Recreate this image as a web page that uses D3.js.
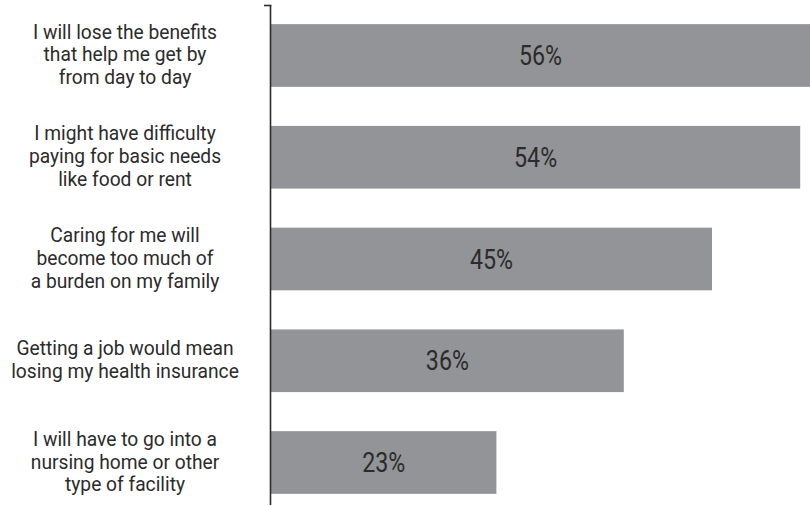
<!DOCTYPE html>
<html>
<head>
<meta charset="utf-8">
<script src="https://cdn.jsdelivr.net/npm/d3@7"></script>
<style>
  html, body { margin: 0; padding: 0; background: #fff; }
  svg { display: block; }
  text { font-family: "Roboto", sans-serif; fill: #2b2b2b; }
</style>
</head>
<body>
<svg id="chart" width="810" height="506"></svg>
<script>
// Survey concerns about working (share of respondents)
const categories = [
  ["I will lose the benefits", "that help me get by", "from day to day"],
  ["I might have difficulty", "paying for basic needs", "like food or rent"],
  ["Caring for me will", "become too much of", "a burden on my family"],
  ["Getting a job would mean", "losing my health insurance"],
  ["I will have to go into a", "nursing home or other", "type of facility"]
];
const values = [56, 54, 45, 36, 23];
const valueLabels = ["56%", "54%", "45%", "36%", "23%"];

const svg = d3.select("#chart");
const W = 810;
const plotLeft = 271, plotTop = 5, plotBottom = 505;
const labelCenter = 125;

const x = d3.scaleLinear().domain([0, 100]).range([plotLeft, plotLeft + 980]);
const y = d3.scaleBand()
  .domain(d3.range(values.length))
  .range([9, 509])
  .paddingInner(0.384)
  .paddingOuter(0.149);

// bars
svg.selectAll("rect.bar")
  .data(values)
  .join("rect")
  .attr("class", "bar")
  .attr("x", x(0))
  .attr("y", (d, i) => y(i))
  .attr("width", d => x(d) - x(0))
  .attr("height", y.bandwidth())
  .attr("fill", "#939497");

// value labels inside bars (condensed by a horizontal squeeze)
svg.selectAll("text.val")
  .data(values)
  .join("text")
  .attr("class", "val")
  .attr("transform", (d, i) => {
    const cx = (x(0) + Math.min(x(d), W)) / 2;
    const cy = y(i) + y.bandwidth() / 2;
    return `translate(${cx},${cy}) scale(0.86,1)`;
  })
  .attr("dy", "0.36em")
  .attr("text-anchor", "middle")
  .attr("font-size", 27)
  .text((d, i) => valueLabels[i]);

// category labels, centred in the left column
const lineH = 23;
svg.selectAll("text.cat")
  .data(categories)
  .join("text")
  .attr("class", "cat")
  .attr("text-anchor", "middle")
  .attr("font-size", 21)
  .attr("transform", (d, i) =>
    `translate(${labelCenter},${y(i) + y.bandwidth() / 2 + 6}) scale(0.915,1)`)
  .each(function(lines) {
    const t = d3.select(this);
    lines.forEach((ln, k) => {
      t.append("tspan")
        .attr("x", 0)
        .attr("y", (k - (lines.length - 1) / 2) * lineH)
        .text(ln);
    });
  });

// vertical category axis with a small tick at the top
const axis = svg.append("g");
axis.append("line")
  .attr("x1", plotLeft - 0.5).attr("x2", plotLeft - 0.5)
  .attr("y1", plotTop).attr("y2", plotBottom)
  .attr("stroke", "#2b2b2b").attr("stroke-width", 1.6);
axis.append("line")
  .attr("x1", plotLeft - 7).attr("x2", plotLeft + 0.3)
  .attr("y1", plotTop + 0.5).attr("y2", plotTop + 0.5)
  .attr("stroke", "#2b2b2b").attr("stroke-width", 1.6);
</script>
</body>
</html>
